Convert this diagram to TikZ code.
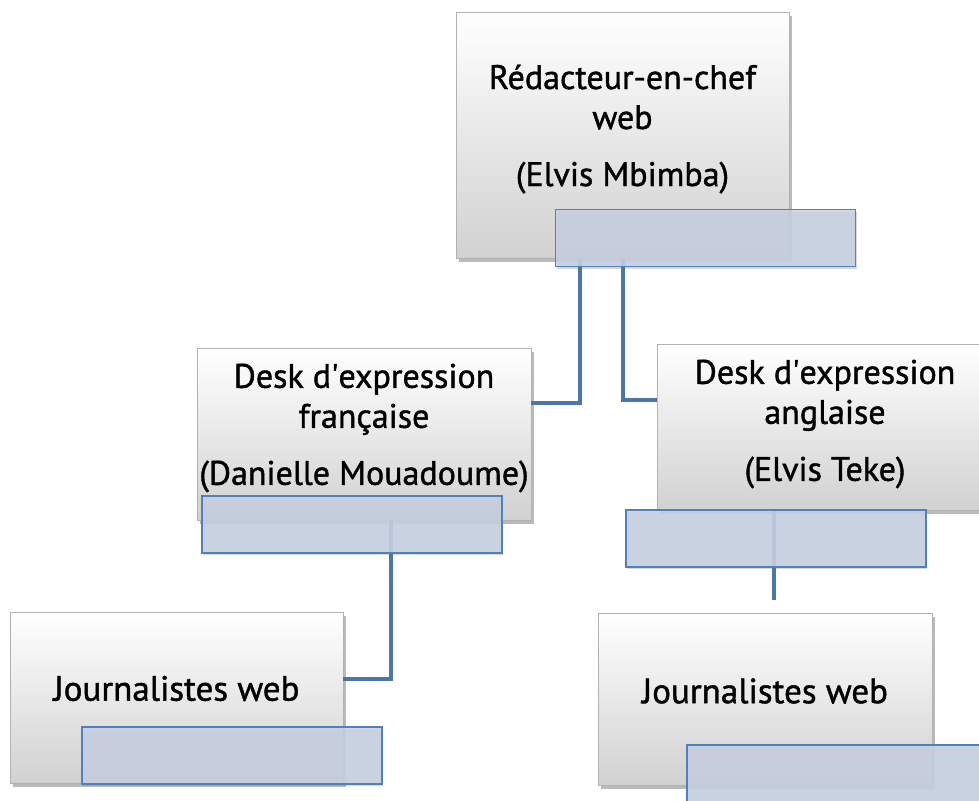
\documentclass[tikz,border=0pt]{standalone}
\usepackage{fontspec}
\setmainfont{PT Sans}[FakeBold=1.2]
\usetikzlibrary{positioning,shadows}
\definecolor{linkblue}{RGB}{74,118,172}
\definecolor{lblfill}{RGB}{200,209,226}
\definecolor{lbldraw}{RGB}{79,129,189}
\tikzset{main node/.style={rectangle,draw=black!30,line width=0.6pt,inner sep=0pt,
    top color=white,middle color=white!96!black,bottom color=black!18,
    drop shadow={shadow xshift=3pt,shadow yshift=-4pt,opacity=0.45,fill=black!60}},
  box text/.style={align=center,inner sep=0pt,font=\fontsize{34}{40}\selectfont},
  label node/.style={rectangle,draw=lbldraw,line width=1.2pt,fill=lblfill,fill opacity=0.88,
    minimum width=300pt,minimum height=57pt,inner sep=0pt,
    drop shadow={shadow xshift=1pt,shadow yshift=-2pt,opacity=0.25,fill=black!60}},
  link/.style={draw=linkblue,line width=3.6pt},
}

\begin{document}
\begin{tikzpicture}[x=1pt,y=-1pt]
		\useasboundingbox (0,0) rectangle (979,800);
		\node[main node,minimum width=333pt,minimum height=246pt] (chef) at (622.5,135) {};
		\node[main node,minimum width=334pt,minimum height=172pt] (fr) at (364,434) {};
		\node[main node,minimum width=336pt,minimum height=166pt] (en) at (825,427) {};
		\node[main node,minimum width=333pt,minimum height=171pt] (j1) at (176.5,697.5) {};
		\node[main node,minimum width=334pt,minimum height=172pt] (j2) at (765,699) {};
		
		\node[box text] (chef t) at ([yshift=6pt]chef) {Rédacteur-en-chef\\web\\[17pt](Elvis Mbimba)};
		\node[box text] (fr t) at ([yshift=6pt]fr) {Desk d\textquotesingle expression\\française\\[17pt](Danielle Mouadoume)};
		\node[box text] (en t) at ([yshift=3pt]en) {Desk d\textquotesingle expression\\anglaise\\[17pt](Elvis Teke)};
		\node[box text,font=\fontsize{35}{40}\selectfont] (j1 t) at ([yshift=9pt]j1) {Journalistes web};
		\node[box text,font=\fontsize{35}{40}\selectfont] (j2 t) at ([yshift=8pt]j2) {Journalistes web};
		
		\path[link]
		([xshift=-42.5pt]chef.south) |- ([yshift=31pt]fr.east)
		([xshift=0.5pt]chef.south) |- ([yshift=27pt]en.west)
		([xshift=27pt]fr.south) |- ([yshift=18.5pt]j1.east);
		\draw[link,shorten >=13pt] ([xshift=-51pt]en.south) -- ([xshift=-51pt]en.south |- j2.north);
		
		\node[label node] (chef l) at (705.5,238) {};
		\node[label node] (fr l) at (352,524.5) {};
		\node[label node] (en l) at (776,538.5) {};
		\node[label node] (j1 l) at (232,755.5) {};
		\node[label node] (j2 l) at (837,773.5) {};
	\end{tikzpicture}
\end{document}
